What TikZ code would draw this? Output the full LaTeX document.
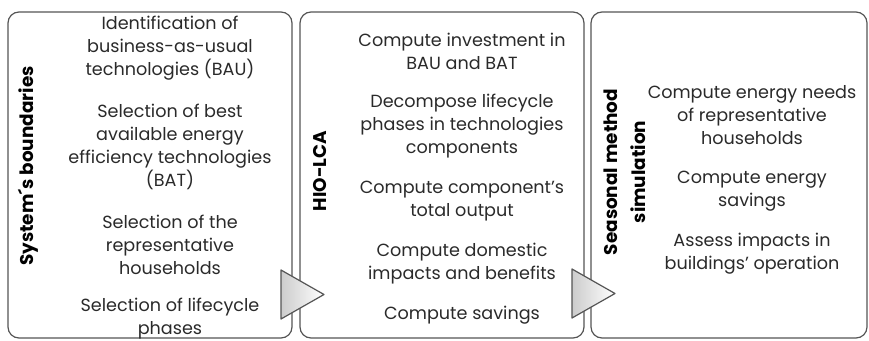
\documentclass[tikz,border=0pt]{standalone}
\usepackage{fontspec}
\setmainfont{Poppins}

\definecolor{framegray}{HTML}{555555}
\definecolor{textgray}{HTML}{2A2A2A}

\tikzset{
  stagebox/.style={draw=framegray, line width=1.2pt, rounded corners=11pt},
  steptext/.style={align=center, text=textgray, inner sep=0pt,
    font=\fontsize{17.6}{23}\selectfont},
  phaselabel/.style={rotate=90, align=center, text=black, inner sep=0pt,
    font=\bfseries\fontsize{18.4}{28}\selectfont},
  flowtri/.style={draw=framegray, line width=1.2pt, line join=round,
    left color=gray!40, right color=white}
}

\begin{document}
\begin{tikzpicture}[x=1pt,y=-1pt]

% Fix the page size
\useasboundingbox (0,0) rectangle (869,340);

% Define the corners of the three stages
\coordinate (S1a) at (8,12);
\coordinate (S1b) at (292,338);
\coordinate (S2a) at (300,12);
\coordinate (S2b) at (584,338);
\coordinate (S3a) at (591,12);
\coordinate (S3b) at (867,338);

% Draw the stage frames
\draw[stagebox] (S1a) rectangle (S1b);
\draw[stagebox] (S2a) rectangle (S2b);
\draw[stagebox] (S3a) rectangle (S3b);

% Draw the arrows between the stages
\draw[flowtri] (281,270) -- (324,294.5) -- (281,319) -- cycle;
\draw[flowtri] (572,269) -- (615,293.5) -- (572,318) -- cycle;

% Label the stages
\node[phaselabel] (sysb) at (28,166) {System´s boundaries};
\node[phaselabel] (hio) at (320,171) {HIO-LCA};
\node[phaselabel] (seas) at (625,172) {Seasonal method\\simulation};

% Steps of the first stage
\node[steptext] (bau) at (170,48.5) {Identification of\\business-as-usual\\technologies (BAU)};
\node[steptext] (bat) at (170,147) {Selection of best\\available energy\\efficiency technologies\\(BAT)};
\node[steptext] (hh) at (170,245) {Selection of the\\representative\\households};
\node[steptext] (lcp) at (170,318.5) {Selection of lifecycle\\phases};

% Steps of the second stage
\node[steptext] (inv) at (462,51.5) {Compute investment in\\BAU and BAT};
\node[steptext] (dec) at (462,126) {Decompose lifecycle\\phases in technologies\\components};
\node[steptext] (tot) at (462,201.5) {Compute component's\\total output};
\node[steptext] (imp) at (462,263.5) {Compute domestic\\impacts and benefits};
\node[steptext] (sav) at (462,315) {Compute savings};

% Steps of the third stage
\node[steptext] (need) at (752,115) {Compute energy needs\\of representative\\households};
\node[steptext] (esav) at (752,191) {Compute energy\\savings};
\node[steptext] (ops) at (752,254) {Assess impacts in\\buildings' operation};

\end{tikzpicture}
\end{document}
